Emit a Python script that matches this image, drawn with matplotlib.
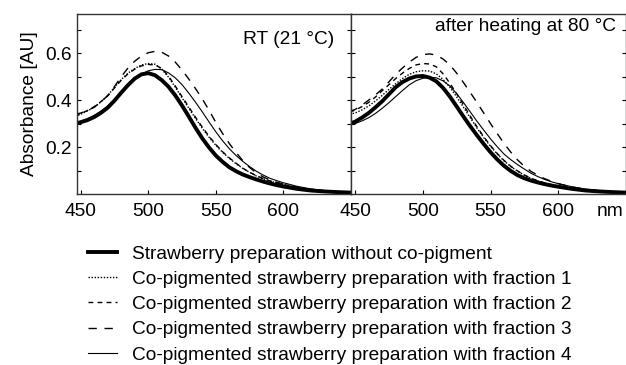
import matplotlib
matplotlib.use("Agg")
import matplotlib.pyplot as plt

plt.rcParams['font.family'] = ['Liberation Sans', 'DejaVu Sans']

# wavelengths (nm)
wavelength = [446, 450, 455, 460, 465, 470, 475, 480, 485, 490, 495, 500, 505, 510,
              515, 520, 525, 530, 535, 540, 545, 550, 555, 560, 565, 570, 575, 580,
              585, 590, 595, 600, 610, 620, 630, 640, 650]

# RT (21 °C)
rt_control = [0.300, 0.306, 0.315, 0.328, 0.346, 0.368, 0.398, 0.432, 0.464, 0.492, 0.510, 0.515, 0.506, 0.485,
              0.457, 0.420, 0.377, 0.330, 0.282, 0.237, 0.198, 0.164, 0.137, 0.114, 0.097, 0.083, 0.072, 0.062,
              0.053, 0.045, 0.038, 0.032, 0.022, 0.015, 0.011, 0.008, 0.006]
rt_frac1 = [0.330, 0.340, 0.354, 0.370, 0.393, 0.420, 0.455, 0.488, 0.515, 0.535, 0.550, 0.556, 0.553, 0.532,
            0.498, 0.455, 0.410, 0.366, 0.322, 0.280, 0.242, 0.208, 0.178, 0.152, 0.129, 0.109, 0.092, 0.077,
            0.065, 0.055, 0.047, 0.040, 0.028, 0.020, 0.014, 0.010, 0.008]
rt_frac2 = [0.336, 0.343, 0.356, 0.372, 0.394, 0.418, 0.452, 0.485, 0.512, 0.532, 0.546, 0.552, 0.550, 0.535,
            0.502, 0.460, 0.415, 0.371, 0.327, 0.285, 0.246, 0.211, 0.180, 0.154, 0.131, 0.110, 0.093, 0.078,
            0.066, 0.056, 0.048, 0.041, 0.029, 0.020, 0.014, 0.010, 0.008]
rt_frac3 = [0.340, 0.345, 0.356, 0.370, 0.392, 0.420, 0.458, 0.500, 0.537, 0.566, 0.588, 0.602, 0.608, 0.604,
            0.588, 0.562, 0.528, 0.490, 0.449, 0.405, 0.357, 0.305, 0.258, 0.215, 0.177, 0.142, 0.113, 0.090,
            0.073, 0.060, 0.050, 0.042, 0.028, 0.019, 0.013, 0.009, 0.007]
rt_frac4 = [0.305, 0.310, 0.321, 0.335, 0.353, 0.375, 0.401, 0.430, 0.461, 0.490, 0.511, 0.525, 0.531, 0.530,
            0.516, 0.495, 0.466, 0.430, 0.391, 0.350, 0.307, 0.265, 0.227, 0.193, 0.164, 0.139, 0.117, 0.097,
            0.081, 0.067, 0.057, 0.048, 0.033, 0.022, 0.015, 0.011, 0.008]

# after heating at 80 °C
heat_control = [0.300, 0.308, 0.325, 0.345, 0.369, 0.395, 0.425, 0.455, 0.477, 0.492, 0.501, 0.503, 0.496, 0.480,
                0.452, 0.415, 0.373, 0.330, 0.289, 0.250, 0.213, 0.178, 0.147, 0.120, 0.098, 0.080, 0.067, 0.057,
                0.049, 0.042, 0.036, 0.031, 0.022, 0.015, 0.011, 0.008, 0.006]
heat_frac1 = [0.340, 0.345, 0.358, 0.375, 0.396, 0.420, 0.446, 0.470, 0.492, 0.510, 0.521, 0.525, 0.524, 0.512,
              0.488, 0.455, 0.414, 0.370, 0.325, 0.281, 0.240, 0.203, 0.170, 0.141, 0.117, 0.097, 0.080, 0.066,
              0.055, 0.046, 0.039, 0.033, 0.024, 0.017, 0.012, 0.009, 0.007]
heat_frac2 = [0.350, 0.357, 0.372, 0.390, 0.413, 0.440, 0.466, 0.492, 0.515, 0.535, 0.550, 0.556, 0.554, 0.542,
              0.512, 0.472, 0.427, 0.380, 0.332, 0.286, 0.244, 0.206, 0.172, 0.143, 0.118, 0.098, 0.081, 0.067,
              0.056, 0.047, 0.040, 0.034, 0.024, 0.017, 0.012, 0.009, 0.007]
heat_frac3 = [0.352, 0.360, 0.378, 0.400, 0.422, 0.447, 0.478, 0.510, 0.537, 0.562, 0.582, 0.594, 0.597, 0.592,
              0.575, 0.550, 0.515, 0.475, 0.433, 0.390, 0.345, 0.300, 0.257, 0.215, 0.178, 0.145, 0.118, 0.096,
              0.079, 0.065, 0.054, 0.044, 0.030, 0.020, 0.014, 0.010, 0.007]
heat_frac4 = [0.295, 0.300, 0.311, 0.325, 0.343, 0.365, 0.389, 0.415, 0.441, 0.465, 0.483, 0.493, 0.498, 0.495,
              0.482, 0.460, 0.428, 0.390, 0.350, 0.310, 0.272, 0.235, 0.201, 0.170, 0.146, 0.125, 0.106, 0.088,
              0.074, 0.062, 0.052, 0.044, 0.031, 0.021, 0.015, 0.011, 0.008]

labels = ['Strawberry preparation without co-pigment',
          'Co-pigmented strawberry preparation with fraction 1',
          'Co-pigmented strawberry preparation with fraction 2',
          'Co-pigmented strawberry preparation with fraction 3',
          'Co-pigmented strawberry preparation with fraction 4']
panel_titles = ['RT (21 °C)', 'after heating at 80 °C']

styles = [dict(ls='-', lw=2.8),
          dict(ls=(0, (1, 1.2)), lw=1.0),
          dict(ls=(0, (3.5, 3)), lw=1.0),
          dict(ls=(0, (6, 5.5)), lw=1.0),
          dict(ls='-', lw=0.8)]

FS = 13.8

fig = plt.figure(figsize=(6.26, 3.65), dpi=100)
ax1 = fig.add_axes([0.1225, 0.4685, 0.438, 0.4931])
ax2 = fig.add_axes([0.5607, 0.4685, 0.4393, 0.4931])

datasets = [[rt_control, rt_frac1, rt_frac2, rt_frac3, rt_frac4],
            [heat_control, heat_frac1, heat_frac2, heat_frac3, heat_frac4]]
# title anchor (axes fraction): right edge x, vertical centre y
title_pos = [(0.94, 0.858), (0.963, 0.932)]

handles = []
for ax, series, title, tpos in zip([ax1, ax2], datasets, panel_titles, title_pos):
    for i, ys in enumerate(series):
        ln, = ax.plot(wavelength, ys, color='black', label=labels[i], **styles[i])
        if ax is ax1:
            handles.append(ln)
    ax.set_xlim(447, 650)
    ax.set_ylim(0, 0.767)
    ax.set_xticks([450, 500, 550, 600])
    ax.set_yticks([0.1, 0.2, 0.3, 0.4, 0.5, 0.6, 0.7])
    ax.tick_params(axis='both', direction='in', length=3, width=0.8, labelsize=FS)
    ax.tick_params(axis='y', right=True, pad=3.5)
    ax.tick_params(axis='x', pad=6.5)
    for sp in ax.spines.values():
        sp.set_linewidth(1.0)
        sp.set_color('#333333')
    ax.text(tpos[0], tpos[1], title, transform=ax.transAxes,
            ha='right', va='center', fontsize=FS)

ax1.set_yticklabels(['', '0.2', '', '0.4', '', '0.6', ''])
ax1.set_ylabel('Absorbance [AU]', fontsize=FS, labelpad=5)
ax2.set_yticklabels([])
fig.text(0.9744, 0.42, 'nm', ha='center', va='center', fontsize=FS)

fig.legend(handles=handles, labels=labels, loc='upper left',
           bbox_to_anchor=(0.1406, 0.3285), frameon=False, fontsize=FS,
           handlelength=1.5, handletextpad=0.78, labelspacing=0.41,
           borderpad=0, borderaxespad=0)

fig.savefig('out.png', dpi=100)
